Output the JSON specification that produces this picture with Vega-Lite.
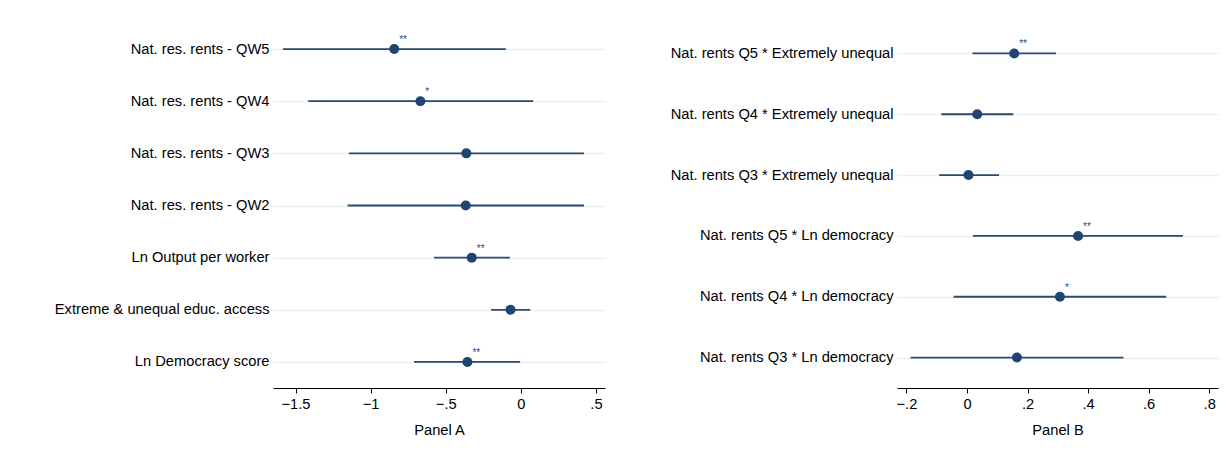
{
  "$schema": "https://vega.github.io/schema/vega-lite/v6.json",
  "background": "white",
  "padding": {"top": 23, "left": 5, "right": 5, "bottom": 5},
  "spacing": 20,
  "config": {
    "view": {"stroke": null},
    "font": "Liberation Sans",
    "axis": {"labelFont": "Liberation Sans", "titleFont": "Liberation Sans"}
  },
  "datasets": {
    "a": [
      {"label": "Nat. res. rents - QW5", "coef": -0.843, "lo": -1.583, "hi": -0.1, "sig": "**"},
      {"label": "Nat. res. rents - QW4", "coef": -0.669, "lo": -1.416, "hi": 0.082, "sig": "*"},
      {"label": "Nat. res. rents - QW3", "coef": -0.363, "lo": -1.145, "hi": 0.42, "sig": ""},
      {"label": "Nat. res. rents - QW2", "coef": -0.367, "lo": -1.153, "hi": 0.42, "sig": ""},
      {"label": "Ln Output per worker", "coef": -0.327, "lo": -0.578, "hi": -0.073, "sig": "**"},
      {"label": "Extreme & unequal educ. access", "coef": -0.069, "lo": -0.198, "hi": 0.062, "sig": ""},
      {"label": "Ln Democracy score", "coef": -0.356, "lo": -0.711, "hi": -0.005, "sig": "**"}
    ],
    "b": [
      {"label": "Nat. rents Q5 * Extremely unequal", "coef": 0.156, "lo": 0.018, "hi": 0.294, "sig": "**"},
      {"label": "Nat. rents Q4 * Extremely unequal", "coef": 0.034, "lo": -0.085, "hi": 0.153, "sig": ""},
      {"label": "Nat. rents Q3 * Extremely unequal", "coef": 0.005, "lo": -0.092, "hi": 0.106, "sig": ""},
      {"label": "Nat. rents Q5 * Ln democracy", "coef": 0.367, "lo": 0.02, "hi": 0.713, "sig": "**"},
      {"label": "Nat. rents Q4 * Ln democracy", "coef": 0.307, "lo": -0.044, "hi": 0.658, "sig": "*"},
      {"label": "Nat. rents Q3 * Ln democracy", "coef": 0.165, "lo": -0.186, "hi": 0.517, "sig": ""}
    ]
  },
  "hconcat": [
    {
      "width": 332,
      "height": 365,
      "data": {"name": "a"},
      "encoding": {
        "y": {
          "field": "label", "type": "nominal", "sort": null,
          "scale": {"type": "point", "padding": 0.5},
          "axis": {
            "title": null, "domain": false, "ticks": false, "tickSize": 0,
            "grid": true, "gridColor": "#e9f0f0", "gridWidth": 1.5,
            "labelFontSize": 14.7, "labelColor": "#000000", "labelPadding": 4,
            "labelLimit": 400, "minExtent": 268, "maxExtent": 268
          }
        }
      },
      "layer": [
        {
          "mark": {"type": "rule", "color": "#2a4a74", "strokeWidth": 1.8},
          "encoding": {
            "x": {
              "field": "lo", "type": "quantitative",
              "scale": {"domain": [-1.65, 0.56], "nice": false, "zero": false},
              "axis": {
                "title": "Panel A", "titleFontSize": 14.7, "titleFontWeight": "normal", "titleColor": "#000000", "titlePadding": 12,
                "values": [-1.5, -1, -0.5, 0, 0.5],
                "labelExpr": "replace(format(datum.value, '.1~f'), '0.', '.')",
                "labelFontSize": 14.7, "labelColor": "#000000", "labelPadding": 3,
                "domainColor": "#000000", "tickColor": "#000000", "tickSize": 5, "grid": false
              }
            },
            "x2": {"field": "hi"}
          }
        },
        {
          "mark": {"type": "point", "filled": true, "opacity": 1, "color": "#1f4570", "size": 100},
          "encoding": {"x": {"field": "coef", "type": "quantitative"}}
        },
        {
          "mark": {"type": "text", "align": "left", "baseline": "middle", "dx": 5, "dy": -9, "fontSize": 10, "color": "#2a4a74"},
          "encoding": {"x": {"field": "coef", "type": "quantitative"}, "text": {"field": "sig"}}
        },
        {
          "mark": {"type": "rule", "color": "#d03048", "strokeWidth": 1.8},
          "encoding": {"x": {"datum": 0}}
        }
      ]
    },
    {
      "width": 321,
      "height": 365,
      "data": {"name": "b"},
      "encoding": {
        "y": {
          "field": "label", "type": "nominal", "sort": null,
          "scale": {"type": "point", "padding": 0.5},
          "axis": {
            "title": null, "domain": false, "ticks": false, "tickSize": 0,
            "grid": true, "gridColor": "#e9f0f0", "gridWidth": 1.5,
            "labelFontSize": 14.7, "labelColor": "#000000", "labelPadding": 4,
            "labelLimit": 400, "minExtent": 272, "maxExtent": 272
          }
        }
      },
      "layer": [
        {
          "mark": {"type": "rule", "color": "#2a4a74", "strokeWidth": 1.8},
          "encoding": {
            "x": {
              "field": "lo", "type": "quantitative",
              "scale": {"domain": [-0.231, 0.829], "nice": false, "zero": false},
              "axis": {
                "title": "Panel B", "titleFontSize": 14.7, "titleFontWeight": "normal", "titleColor": "#000000", "titlePadding": 12,
                "values": [-0.2, 0, 0.2, 0.4, 0.6, 0.8],
                "labelExpr": "replace(format(datum.value, '.1~f'), '0.', '.')",
                "labelFontSize": 14.7, "labelColor": "#000000", "labelPadding": 3,
                "domainColor": "#000000", "tickColor": "#000000", "tickSize": 5, "grid": false
              }
            },
            "x2": {"field": "hi"}
          }
        },
        {
          "mark": {"type": "point", "filled": true, "opacity": 1, "color": "#1f4570", "size": 100},
          "encoding": {"x": {"field": "coef", "type": "quantitative"}}
        },
        {
          "mark": {"type": "text", "align": "left", "baseline": "middle", "dx": 5, "dy": -9, "fontSize": 10, "color": "#2a4a74"},
          "encoding": {"x": {"field": "coef", "type": "quantitative"}, "text": {"field": "sig"}}
        },
        {
          "mark": {"type": "rule", "color": "#cc6070", "strokeWidth": 2.5},
          "encoding": {"x": {"datum": 0}}
        }
      ]
    }
  ]
}
